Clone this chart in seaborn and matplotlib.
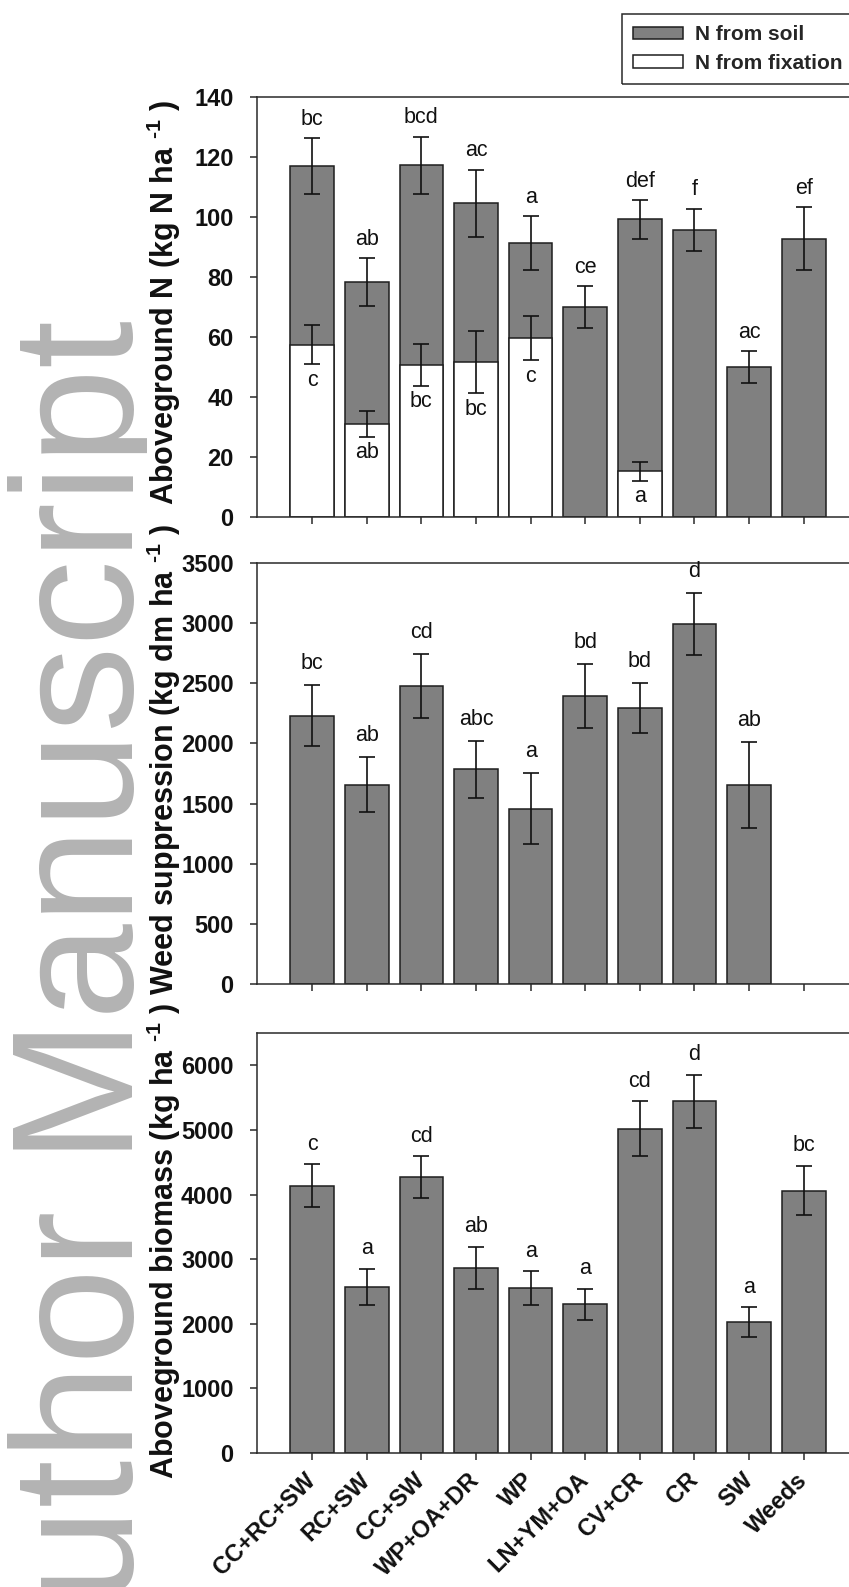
import numpy as np
import pandas as pd
import matplotlib
matplotlib.use("Agg")
import matplotlib.pyplot as plt
from matplotlib.patches import Patch, Rectangle
import seaborn as sns

# ---------------------------------------------------------------- data
treatments = ["CC+RC+SW", "RC+SW", "CC+SW", "WP+OA+DR", "WP",
              "LN+YM+OA", "CV+CR", "CR", "SW", "Weeds"]

# Aboveground N (kg N ha-1): part from fixation and part from soil
n_fixation = [57.5, 31.0, 50.7, 51.6, 59.6, 0.0, 15.2, 0.0, 0.0, 0.0]
n_fixation_se = [6.6, 4.2, 6.9, 10.3, 7.4, np.nan, 3.1, np.nan, np.nan, np.nan]
n_soil = [59.5, 47.4, 66.6, 53.0, 31.8, 70.0, 84.0, 95.8, 50.0, 92.7]
n_total_se = [9.3, 7.9, 9.5, 11.2, 8.9, 7.0, 6.5, 7.0, 5.2, 10.5]
n_total_letters = ["bc", "ab", "bcd", "ac", "a", "ce", "def", "f", "ac", "ef"]
n_fixation_letters = ["c", "ab", "bc", "bc", "c", "", "a", "", "", ""]

# Weed suppression (kg dm ha-1); not defined for the weedy control
weed_suppression = [2232, 1656, 2476, 1784, 1457, 2393, 2293, 2993, 1656, np.nan]
weed_suppression_se = [253, 228, 265, 238, 295, 267, 210, 256, 355, np.nan]
weed_letters = ["bc", "ab", "cd", "abc", "a", "bd", "bd", "d", "ab", ""]

# Aboveground biomass (kg ha-1)
biomass = [4135, 2575, 4270, 2860, 2555, 2300, 5021, 5440, 2021, 4062]
biomass_se = [332, 280, 321, 329, 259, 245, 420, 410, 233, 383]
biomass_letters = ["c", "a", "cd", "ab", "a", "a", "cd", "d", "a", "bc"]

n_ticks = [0, 20, 40, 60, 80, 100, 120, 140]
weed_ticks = [0, 500, 1000, 1500, 2000, 2500, 3000, 3500]
biomass_ticks = [0, 1000, 2000, 3000, 4000, 5000, 6000]

# ---------------------------------------------------------------- style
sns.set_theme(style="ticks")
plt.rcParams.update({
    "font.family": ["Liberation Sans", "DejaVu Sans"],
    "mathtext.fontset": "custom",
    "mathtext.rm": "Liberation Sans:bold",
    "mathtext.bf": "Liberation Sans:bold",
    "mathtext.it": "Liberation Sans:bold:italic",
    "axes.edgecolor": "#2a2a2a",
    "axes.linewidth": 1.1,
    "axes.facecolor": "none",
})

GREY = "#808080"
EDGE = "#1e1e1e"
INK = "#111111"
HYPHEN = "\u2010"

W, H = 849, 1587
fig = plt.figure(figsize=(W / 100, H / 100), dpi=100)
fig.patch.set_facecolor("white")


def rect(top_px, bottom_px, left_px=256.5, right_px=849):
    return [left_px / W, 1 - bottom_px / H, (right_px - left_px) / W,
            (bottom_px - top_px) / H]


ax1 = fig.add_axes(rect(97, 517))
ax2 = fig.add_axes(rect(563, 984))
ax3 = fig.add_axes(rect(1033, 1453))

bar_kw = dict(order=treatments, width=0.8, saturation=1, edgecolor=EDGE,
              linewidth=1.1, errorbar=None)
err_kw = dict(fmt="none", ecolor=INK, elinewidth=1.2, capsize=5.5,
              capthick=1.2, zorder=4)
pos = np.arange(len(treatments))


def letters_above(ax, tops, labels, offset):
    for x, y, lab in zip(pos, tops, labels):
        if lab and np.isfinite(y):
            ax.annotate(lab, xy=(x, y), xytext=(0, offset),
                        textcoords="offset points", ha="center",
                        va="baseline", fontsize=15.5, color=INK)


# ---- panel 1: stacked N sources
df_n = pd.DataFrame({"treatment": treatments, "fix": n_fixation,
                     "soil": n_soil, "total_se": n_total_se,
                     "fix_se": n_fixation_se})
df_n["total"] = df_n["fix"] + df_n["soil"]
sns.barplot(data=df_n, x="treatment", y="total", color=GREY, ax=ax1, **bar_kw)
df_fix = df_n[df_n["fix"] > 0]
sns.barplot(data=df_fix, x="treatment", y="fix", color="white", ax=ax1, **bar_kw)
ax1.errorbar(pos, df_n["total"], yerr=df_n["total_se"], **err_kw)
fix_pos = [treatments.index(t) for t in df_fix["treatment"]]
ax1.errorbar(fix_pos, df_fix["fix"], yerr=df_fix["fix_se"], **err_kw)
letters_above(ax1, df_n["total"] + df_n["total_se"], n_total_letters, 9.5)
for x, y, se, lab in zip(pos, n_fixation, n_fixation_se, n_fixation_letters):
    if lab:
        ax1.annotate(lab, xy=(x, y - se), xytext=(0, -4),
                     textcoords="offset points", ha="center", va="top",
                     fontsize=15.5, color=INK)

# ---- panel 2: weed suppression
df_w = pd.DataFrame({"treatment": treatments, "value": weed_suppression,
                     "se": weed_suppression_se}).dropna()
sns.barplot(data=df_w, x="treatment", y="value", color=GREY, ax=ax2, **bar_kw)
w_pos = [treatments.index(t) for t in df_w["treatment"]]
ax2.errorbar(w_pos, df_w["value"], yerr=df_w["se"], **err_kw)
letters_above(ax2, np.array(weed_suppression) + np.array(weed_suppression_se),
              weed_letters, 11.5)

# ---- panel 3: aboveground biomass
df_b = pd.DataFrame({"treatment": treatments, "value": biomass, "se": biomass_se})
sns.barplot(data=df_b, x="treatment", y="value", color=GREY, ax=ax3, **bar_kw)
ax3.errorbar(pos, df_b["value"], yerr=df_b["se"], **err_kw)
letters_above(ax3, df_b["value"] + df_b["se"], biomass_letters, 10.5)

# ---- axes cosmetics
sup = r"$^{" + HYPHEN + r"1}$"
panels = [
    (ax1, (0, 140), n_ticks, "Aboveground N (kg N ha " + sup + " )", 0.51),
    (ax2, (0, 3500), weed_ticks, "Weed suppression (kg dm ha " + sup + " )", 0.534),
    (ax3, (0, 6500), biomass_ticks, "Aboveground biomass (kg ha " + sup + " )", 0.505),
]
for ax, ylim, ticks, label, ly in panels:
    ax.set_xlim(-1.02, 9.83)
    ax.set_ylim(*ylim)
    ax.set_yticks(ticks)
    ax.set_yticklabels([str(t) for t in ticks], fontsize=17, fontweight="bold",
                       color=INK)
    ax.spines["right"].set_visible(False)
    for s in ("left", "top", "bottom"):
        ax.spines[s].set_visible(True)
        ax.spines[s].set_color("#2a2a2a")
        ax.spines[s].set_linewidth(1.1)
    ax.tick_params(axis="both", direction="out", length=5, width=1.1,
                   color="#2a2a2a")
    ax.tick_params(axis="y", pad=11.5)
    ax.set_xticks(pos)
    ax.set_xlabel("")
    ax.set_ylabel(label, fontsize=22, fontweight="bold", color=INK)
    ax.yaxis.set_label_coords(-0.124, ly)

for ax in (ax1, ax2):
    ax.tick_params(axis="x", labelbottom=False)
ax3.set_xticklabels(treatments, rotation=45, ha="right", va="center",
                    rotation_mode="anchor", fontsize=17, fontweight="bold",
                    color=INK)
ax3.tick_params(axis="x", pad=12)

# ---- legend
handles = [Patch(facecolor=GREY, edgecolor=EDGE, linewidth=1.1, label="N from soil"),
           Patch(facecolor="white", edgecolor=EDGE, linewidth=1.1, label="N from fixation")]
leg = fig.legend(handles=handles, loc="upper left",
                 bbox_to_anchor=(622 / W, 1 - 14 / H),
                 bbox_transform=fig.transFigure, frameon=True, fancybox=False,
                 framealpha=1, edgecolor="#2a2a2a",
                 prop={"weight": "bold", "size": 15},
                 handlelength=2.4, handleheight=0.55, handletextpad=0.55,
                 borderpad=0.55, labelspacing=0.45, borderaxespad=0)
leg.get_frame().set_linewidth(1.1)

# ---- margin watermark
wm = fig.text(133 / W, 1 - 320 / H, "Author Manuscript", rotation=90,
              rotation_mode="anchor", ha="right", va="baseline",
              fontsize=124, color="#b3b3b3", family="Liberation Sans",
              zorder=0)
wm.set_clip_path(Rectangle((0, 0), 147 / W, 1, transform=fig.transFigure))

fig.savefig("out.png", dpi=100, facecolor="white")
